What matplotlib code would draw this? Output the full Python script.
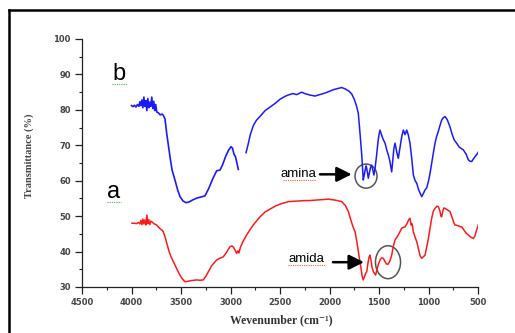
import matplotlib
matplotlib.use("Agg")
import matplotlib.pyplot as plt
from matplotlib.lines import Line2D
from matplotlib.patches import Ellipse
from matplotlib.ticker import MultipleLocator

# ---------------- data ----------------
b_wn1 = [4000, 3985, 3970, 3955, 3940, 3925, 3915, 3905, 3895, 3885, 3875, 3865, 3855, 3845,
         3835, 3825, 3815, 3805, 3795, 3785, 3775, 3765, 3755, 3745, 3730, 3710, 3690, 3680,
         3662, 3645, 3625, 3611, 3590, 3561, 3535, 3510, 3480, 3450, 3420, 3380, 3340, 3300,
         3258, 3220, 3180, 3140, 3106, 3080, 3050, 3020, 2995, 2980, 2965, 2950, 2935, 2921]
b_t1 = [81.2, 80.9, 81.3, 80.8, 81.5, 81.0, 82.3, 81.2, 82.8, 80.6, 83.6, 81.0, 82.6, 79.8,
        83.2, 80.6, 82.2, 81.0, 83.6, 80.4, 82.4, 79.8, 81.5, 79.4, 79.2, 78.6, 78.8, 78.5,
        77.5, 73.5, 69.5, 66.7, 63.0, 60.2, 57.5, 55.5, 54.3, 53.8, 54.0, 54.6, 55.1, 55.4,
        55.7, 57.8, 60.5, 62.8, 63.0, 64.5, 66.8, 68.6, 69.6, 69.2, 67.5, 66.8, 65.0, 63.2]

b_wn2 = [2843, 2820, 2800, 2770, 2740, 2700, 2650, 2600, 2550, 2500, 2450, 2416, 2370, 2330,
         2281, 2250, 2200, 2146, 2100, 2050, 2012, 1960, 1920, 1877, 1840, 1800, 1776, 1750,
         1725, 1709, 1692, 1675, 1665, 1659, 1650, 1640, 1630, 1624, 1615, 1608, 1595, 1585,
         1574, 1562, 1551, 1540, 1525, 1510, 1500, 1490, 1475, 1460, 1439, 1420, 1406, 1390,
         1372, 1360, 1350, 1338, 1320, 1305, 1290, 1270, 1254, 1237, 1220, 1205, 1187, 1170,
         1153, 1135, 1119, 1100, 1085, 1068, 1050, 1035, 1018, 1001, 985, 968, 950, 934,
         918, 901, 885, 867, 850, 833, 810, 783, 760, 740, 716, 690, 665, 648, 620, 598,
         580, 564, 545, 530, 510, 495]
b_t2 = [67.9, 70.5, 73.0, 75.5, 77.0, 78.2, 79.8, 80.8, 81.8, 83.0, 83.8, 84.2, 84.6, 84.3,
        85.0, 84.6, 84.2, 83.9, 84.3, 84.7, 85.1, 85.7, 86.0, 86.3, 85.9, 85.2, 84.5, 83.0,
        80.9, 79.0, 73.5, 67.5, 63.0, 60.2, 61.5, 63.0, 64.2, 63.5, 62.0, 60.7, 62.5, 63.8,
        64.4, 63.0, 61.6, 63.5, 67.0, 71.0, 73.0, 74.3, 73.0, 71.8, 70.6, 68.5, 67.3, 65.5,
        62.5, 66.0, 69.0, 70.6, 68.0, 66.3, 69.0, 72.5, 74.3, 73.0, 74.3, 73.0, 70.6, 66.5,
        61.6, 60.0, 59.3, 57.5, 56.5, 55.5, 56.5, 57.4, 58.0, 59.8, 62.0, 64.9, 68.0, 70.6,
        72.5, 73.9, 75.5, 77.1, 77.8, 78.1, 77.2, 75.2, 73.0, 71.5, 70.6, 69.5, 69.0, 68.7, 67.5, 65.9,
        65.5, 65.4, 66.2, 66.8, 67.5, 68.2]

a_wn = [3995, 3970, 3950, 3930, 3915, 3905, 3895, 3885, 3875, 3865, 3855, 3845, 3835, 3825,
        3815, 3805, 3790, 3770, 3750, 3730, 3710, 3690, 3679, 3660, 3640, 3620, 3600, 3578,
        3550, 3520, 3490, 3460, 3430, 3400, 3370, 3342, 3310, 3275, 3250, 3220, 3190, 3160,
        3140, 3110, 3073, 3040, 3005, 2985, 2972, 2955, 2938, 2925, 2915, 2900, 2880, 2860,
        2837, 2800, 2770, 2740, 2702, 2650, 2600, 2550, 2500, 2450, 2416, 2350, 2300, 2248,
        2200, 2150, 2100, 2050, 2012, 1960, 1920, 1877, 1840, 1810, 1780, 1760, 1742, 1725,
        1709, 1695, 1682, 1670, 1659, 1645, 1635, 1624, 1610, 1600, 1591, 1580, 1570, 1557,
        1534, 1520, 1505, 1490, 1475, 1456, 1440, 1425, 1411, 1395, 1385, 1372, 1355, 1338,
        1320, 1305, 1290, 1271, 1255, 1237, 1215, 1200, 1187, 1175, 1165, 1153, 1135, 1119,
        1100, 1085, 1068, 1050, 1035, 1020, 1001, 985, 968, 950, 934, 915, 901, 885, 875,
        867, 855, 845, 833, 810, 783, 760, 745, 732, 700, 680, 665, 640, 620, 598, 570, 547,
        530, 515, 497]
a_t = [48.0, 48.0, 47.9, 48.2, 47.8, 48.8, 47.6, 49.2, 47.8, 48.9, 47.5, 50.3, 47.9, 49.0,
       47.6, 48.6, 48.3, 47.8, 47.6, 47.0, 46.4, 46.0, 45.6, 44.0, 42.0, 40.0, 38.5, 37.2,
       35.5, 33.8, 32.4, 31.5, 31.6, 31.8, 31.9, 32.0, 31.9, 32.0, 33.0, 34.5, 36.0, 37.0,
       37.6, 38.1, 38.5, 39.8, 41.4, 41.6, 41.3, 40.5, 39.5, 40.2, 39.6, 41.2, 42.5, 43.5,
       44.7, 46.3, 47.5, 48.5, 49.8, 51.2, 52.0, 52.8, 53.4, 53.8, 54.1, 54.2, 54.3, 54.4,
       54.4, 54.5, 54.6, 54.7, 54.8, 54.6, 54.4, 54.1, 53.0, 51.3, 48.5, 46.8, 45.6, 43.0,
       40.0, 37.5, 35.3, 33.0, 32.0, 33.0, 33.8, 34.3, 37.0, 38.5, 39.0, 37.5, 35.5, 34.3,
       33.4, 35.0, 36.5, 37.6, 38.2, 38.1, 37.2, 36.5, 36.4, 37.0, 37.8, 39.0, 41.5, 43.3,
       44.0, 44.7, 45.5, 46.6, 46.8, 47.0, 48.0, 49.0, 49.4, 47.5, 47.8, 45.6, 44.0, 42.8,
       40.5, 38.8, 38.1, 38.6, 39.0, 41.0, 43.7, 46.5, 49.4, 51.5, 52.2, 52.8, 52.7, 51.5, 50.0,
       49.8, 51.5, 52.3, 52.2, 51.8, 51.3, 49.5, 48.2, 47.5, 47.3, 47.0, 47.0, 46.0, 45.2, 44.7, 44.0, 43.7,
       44.5, 46.0, 47.5]

x_ticks = [4500, 4000, 3500, 3000, 2500, 2000, 1500, 1000, 500]
y_ticks = [30, 40, 50, 60, 70, 80, 90, 100]

# ---------------- figure ----------------
fig = plt.figure(figsize=(5.15, 3.33), dpi=100)
ax = fig.add_axes([82 / 515, 1 - 287 / 333, (478 - 82) / 515, (287 - 39) / 333])

ax.plot(b_wn1, b_t1, color="#1a1aff", lw=1.2)
ax.plot(b_wn2, b_t2, color="#1a1aff", lw=1.1)
ax.plot(a_wn, a_t, color="#ff1a1a", lw=1.1)

ax.set_xlim(4500, 500)
ax.set_ylim(30, 100)
ax.set_xticks(x_ticks)
ax.set_yticks(y_ticks)
ax.xaxis.set_minor_locator(MultipleLocator(250))
ax.yaxis.set_minor_locator(MultipleLocator(5))
for s in ["top", "right"]:
    ax.spines[s].set_visible(False)
for s in ["left", "bottom"]:
    ax.spines[s].set_linewidth(0.9)
    ax.spines[s].set_color("#222222")
ax.tick_params(which="major", direction="out", length=5, width=0.9, color="#222222",
               labelsize=6, labelcolor="#444444", pad=3)
ax.tick_params(which="minor", direction="out", length=2.5, width=0.8, color="#222222")
for lab in ax.get_xticklabels() + ax.get_yticklabels():
    lab.set_fontweight("bold")
    lab.set_family(["DejaVu Sans"])

ax.set_xlabel("Wevenumber (cm\u207b\u00b9)", family=["Liberation Serif", "DejaVu Serif"],
              fontweight="bold", fontsize=8.5, color="#333333")
ax.xaxis.set_label_coords(0.503, -0.11)
ax.set_ylabel("Transmittance (%)", family=["Liberation Serif", "DejaVu Serif"],
              fontweight="bold", fontsize=7.5, color="#444444")
ax.yaxis.set_label_coords(-0.12, 0.53)

# sample labels
ax.text(4126, 88.4, "b", fontsize=17, family=["Liberation Sans"], ha="center", va="baseline")
ax.text(4180, 55.1, "a", fontsize=17, family=["Liberation Sans"], ha="center", va="baseline")
ax.plot([4200, 4050], [87.3, 87.3], color="#55aa55", lw=0.8, ls=(0, (1, 1)))
ax.plot([4250, 4110], [54.0, 54.0], color="#55aa55", lw=0.8, ls=(0, (1, 1)))

# annotations
ax.text(2136, 62.0, "amina", fontsize=9.5, family=["Liberation Sans"], ha="right", va="center")
ax.text(2419, 38.0, "amida", fontsize=9.5, family=["Liberation Sans"], ha="left", va="center")
ax.plot([2470, 2140], [60.2, 60.2], color="#dd6633", lw=0.8, ls=(0, (1, 1)))
ax.plot([2415, 2040], [36.2, 36.2], color="#dd6633", lw=0.8, ls=(0, (1, 1)))

arrow_kw = dict(arrowstyle="-|>,head_length=0.9,head_width=0.45", color="black", lw=1.8,
                shrinkA=0, shrinkB=0)
ax.annotate("", xy=(1776, 61.8), xytext=(2096, 61.8), arrowprops=arrow_kw)
ax.annotate("", xy=(1652, 37.0), xytext=(1965, 37.0), arrowprops=arrow_kw)
ax.add_patch(Ellipse((1631, 61.3), 222, 6.8, fill=False, edgecolor="#555555", lw=1.1))
ax.add_patch(Ellipse((1409, 37.0), 253, 9.3, fill=False, edgecolor="#555555", lw=1.1))

# outer frame (left and top border of the figure box)
fig.add_artist(Line2D([9 / 515, 9 / 515], [0, 1 - 10 / 333], transform=fig.transFigure,
                      color="black", lw=1.8))
fig.add_artist(Line2D([9 / 515, 1], [1 - 10 / 333, 1 - 10 / 333], transform=fig.transFigure,
                      color="black", lw=1.8))

fig.savefig("out.png", dpi=100)
